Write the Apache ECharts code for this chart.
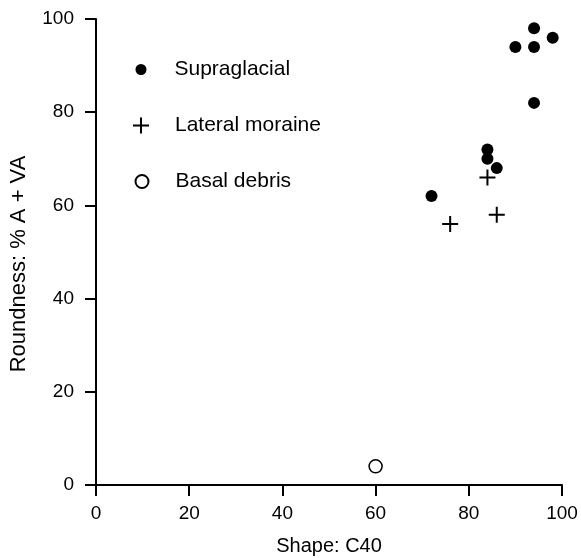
<!DOCTYPE html>
<html>
<head>
<meta charset="utf-8">
<script src="https://cdn.jsdelivr.net/npm/echarts@6/dist/echarts.min.js"></script>
<style>
  html, body { margin: 0; padding: 0; background: #fff; }
  #chart { width: 581px; height: 558px; }
</style>
</head>
<body>
<div id="chart"></div>
<script>
// values: [shape C40, roundness %A+VA]
const supraglacial = [[72, 62], [84, 72], [84, 70], [86, 68], [90, 94], [94, 98], [94, 94], [98, 96], [94, 82]];
const lateralMoraine = [[76, 56], [84, 66], [86, 58]];
const basalDebris = [[60, 4]];
const xTicks = [0, 20, 40, 60, 80, 100];
const yTicks = [0, 20, 40, 60, 80, 100];

const font = '"Liberation Sans", Arial, Helvetica, sans-serif';
const plusPath = 'path://M7,0h2v7h7v2h-7v7h-2v-7h-7v-2h7z';

const axisCommon = {
  min: 0,
  max: 100,
  interval: 20,
  axisLine: { show: true, lineStyle: { color: '#000', width: 2 } },
  axisTick: { show: true, length: 11, lineStyle: { color: '#000', width: 2 } },
  splitLine: { show: false },
  nameLocation: 'middle',
};

// one legend per series so each icon keeps its own size
function legendFor(name, w, h, top, pad) {
  return {
    data: [name],
    left: 141 - w / 2,
    top: top,
    padding: 0,
    itemWidth: w,
    itemHeight: h,
    selectedMode: false,
    textStyle: { color: '#000', fontSize: 21, fontFamily: font, padding: [0, 0, 0, pad] },
  };
}

const chart = echarts.init(document.getElementById('chart'));
chart.setOption({
  animation: false,
  textStyle: { fontFamily: font },
  grid: { left: 96, right: 19, top: 19, bottom: 73, outerBoundsMode: 'none' },
  legend: [
    legendFor('Supraglacial', 11, 11, 59, 23),
    legendFor('Lateral moraine', 16, 16, 115, 21),
    legendFor('Basal debris', 13, 13, 171, 22),
  ],
  xAxis: Object.assign({}, axisCommon, {
    type: 'value',
    name: 'Shape: C40',
    nameGap: 51,
    nameTextStyle: { color: '#000', fontSize: 20, fontFamily: font },
    axisLabel: {
      color: '#000', fontSize: 19, fontFamily: font, margin: 19,
      formatter: v => (xTicks.includes(v) ? String(v) : ''),
    },
  }),
  yAxis: Object.assign({}, axisCommon, {
    type: 'value',
    name: 'Roundness: % A + VA',
    nameGap: 66,
    nameTextStyle: { color: '#000', fontSize: 22, fontFamily: font, padding: [0, 24, 0, 0] },
    axisLabel: {
      color: '#000', fontSize: 19, fontFamily: font, margin: 22,
      formatter: v => (yTicks.includes(v) ? String(v) : ''),
    },
  }),
  series: [
    {
      name: 'Supraglacial',
      type: 'scatter',
      symbol: 'circle',
      symbolSize: 12,
      itemStyle: { color: '#000', opacity: 1 },
      data: supraglacial,
    },
    {
      name: 'Lateral moraine',
      type: 'scatter',
      symbol: plusPath,
      symbolSize: 16,
      itemStyle: { color: '#000', opacity: 1 },
      data: lateralMoraine,
    },
    {
      name: 'Basal debris',
      type: 'scatter',
      symbol: 'circle',
      symbolSize: 13,
      itemStyle: { color: '#fff', borderColor: '#000', borderWidth: 1.5, opacity: 1 },
      data: basalDebris,
    },
  ],
});
</script>
</body>
</html>
